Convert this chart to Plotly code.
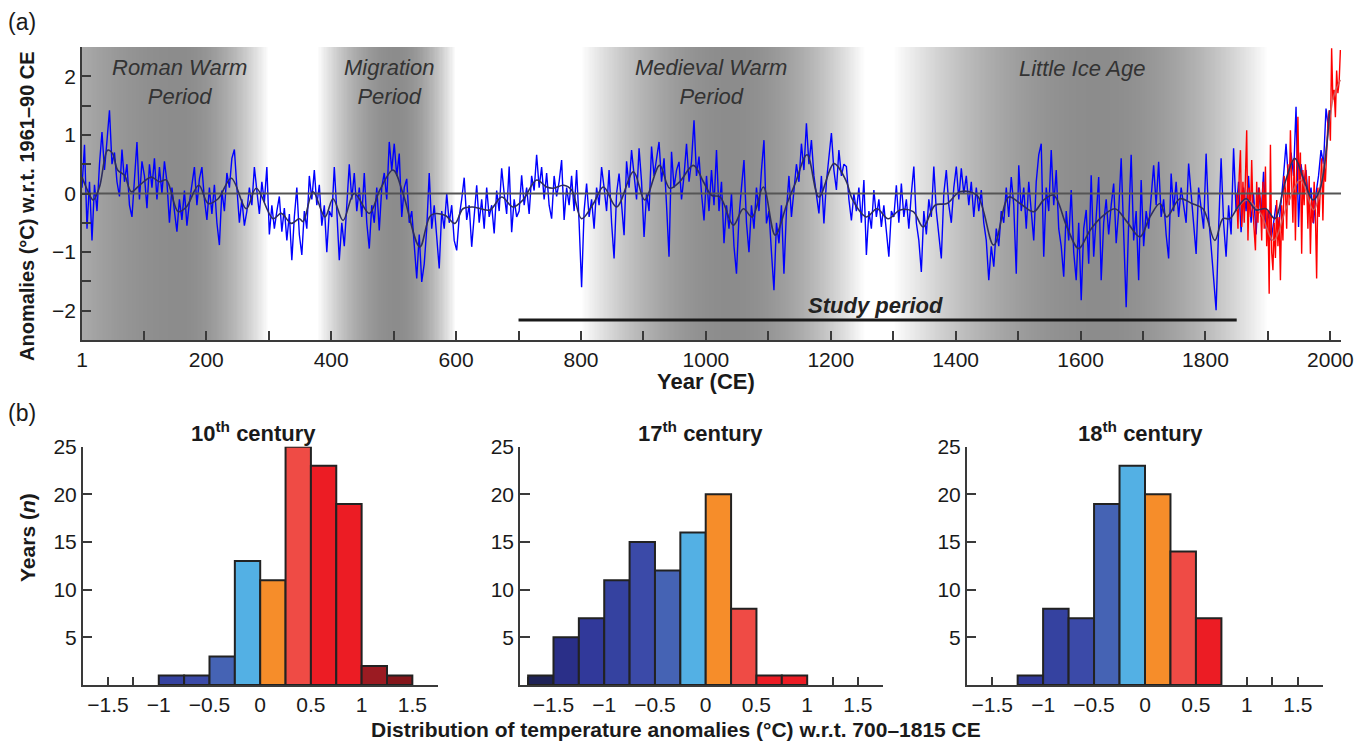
import math
import plotly.graph_objects as go

# ---------------- panel (a) data ----------------
blue_years = list(range(1, 2000, 4))
blue_anom = [
    # 1-97
    0.1, 0.83, -0.6, 0.2, -0.8, 0.15, -0.3, 0.5, 1.05, 0.4, 0.9, 1.42, 0.5, 0.7, 0.2, -0.05, 0.75, 0.2, 0.5, -0.2, -0.4, 0.3, 0.88, -0.1, 0.55,
    # 101-197
    0.3, -0.25, 0.5, 0.1, 0.6, -0.1, 0.45, 0.0, 0.55, 0.2, -0.5, 0.1, -0.3, -0.65, -0.1, -0.45, 0.05, -0.55, -0.15, 0.2, 0.45, -0.2, 0.25, 0.45, -0.1,
    # 201-297
    -0.45, 0.1, -0.35, 0.15, -0.5, -0.88, 0.05, -0.3, 0.35, 0.1, 0.6, 0.75, 0.1, -0.5, -0.1, -0.55, -0.3, 0.1, -0.2, 0.45, 0.05, -0.35, 0.2, -0.15, 0.45,
    # 301-397
    -0.7, -0.2, -0.6, -0.3, -0.05, -0.65, -0.25, -0.8, -0.35, -1.14, -0.4, 0.1, -0.7, -1.05, -0.3, -0.6, 0.3, -0.1, 0.4, -0.2, 0.15, -0.55, -0.2, -1.0, -0.3,
    # 401-497
    -0.4, 0.45, -0.3, -1.14, -0.5, -0.9, -0.2, 0.5, -0.1, 0.35, -0.3, 0.1, -0.4, 0.35, -0.5, -0.94, -0.2, -0.5, 0.1, -0.63, 0.1, 0.35, -0.1, 0.88, 0.4,
    # 501-597
    0.85, 0.3, 0.68, -0.4, 0.1, 0.25, -0.5, -0.3, -0.9, -1.45, -0.7, -1.51, -1.2, -0.6, 0.35, -0.6, -0.2, -0.7, -1.28, -0.3, -0.6, 0.0, -0.5, -0.2, -0.8,
    # 601-697
    -0.97, -0.4, -0.1, 0.27, -0.45, -0.2, -0.91, -0.3, 0.14, -0.5, -0.1, -0.6, 0.1, -0.4, -0.2, -0.68, 0.05, -0.3, 0.43, 0.0, -0.35, 0.46, -0.66, -0.1, -0.4,
    # 701-797
    -0.3, 0.31, -0.2, 0.1, -0.35, 0.3, 0.05, 0.66, 0.1, 0.45, -0.1, 0.35, -0.2, -0.43, 0.3, -0.05, 0.2, 0.57, -0.45, 0.1, -0.2, 0.3, -0.3, 0.4, -0.5,
    # 801-897
    -1.6, -0.3, 0.17, -0.4, -0.1, -0.6, 0.1, -0.2, 0.45, 0.1, -0.3, 0.4, -0.5, -1.11, 0.0, 0.34, -0.2, -0.71, 0.55, 0.1, 0.74, 0.3, -0.1, 0.77, 0.2,
    # 901-997
    -0.74, 0.0, -0.3, 0.8, 0.3, 0.6, 0.88, 0.2, 0.6, -0.2, -1.08, 0.71, 0.1, 0.4, 0.54, -0.1, 0.3, 0.85, 0.2, 0.55, 1.25, 0.3, 0.63, 0.0, -0.46,
    # 1001-1097
    0.3, -0.3, 0.4, -0.2, 0.74, -0.3, 0.2, -0.85, -0.2, -0.6, 0.0, -0.9, -1.37, -0.4, 0.1, 0.57, -0.5, -1.0, -0.2, -0.6, 0.1, -0.3, 0.4, 0.91, -0.51,
    # 1101-1197
    -0.3, -1.0, -1.65, -0.5, -0.85, -0.2, -1.37, -0.3, 0.3, -0.4, 0.1, 0.5, 0.2, 0.85, 0.4, 1.2, 0.5, 0.91, 0.3, 0.0, -0.34, 0.3, -0.51, 0.2, 0.6,
    # 1201-1297
    1.03, 0.4, 0.06, 0.74, 0.3, 0.5, 0.46, -0.1, -0.46, 0.0, -0.3, 0.1, -0.5, 0.23, -1.05, -0.3, -0.6, 0.06, -0.4, -0.1, -0.57, -0.2, -0.7, -1.08, -0.3,
    # 1301-1397
    -0.4, 0.14, -0.5, 0.17, -0.4, -0.1, -0.6, 0.0, 0.46, -0.5, -0.8, -1.34, -0.3, -0.7, -0.1, -0.4, 0.46, -0.3, -0.7, -1.11, 0.0, 0.4, -0.2, -0.5, 0.1,
    # 1401-1497
    0.46, -0.1, 0.43, 0.0, 0.3, -0.2, 0.2, -0.4, 0.1, -0.3, 0.06, -0.5, -0.8, -1.48, -0.9, -1.25, -0.6, -0.9, -0.3, -0.5, 0.1, -0.4, 0.28, -0.2, -1.37,
    # 1501-1597
    0.48, -0.3, 0.1, -0.6, 0.2, -0.34, -0.8, 0.2, 0.66, 0.85, -1.08, 0.1, -0.3, 0.74, -0.2, 0.4, -0.6, -0.9, -1.42, -0.3, -0.8, 0.06, -1.0, -1.48, -0.5,
    # 1601-1697
    -1.82, -0.6, -0.28, -1.2, 0.31, -1.08, -0.4, 0.28, -1.48, -0.5, -0.1, -0.7, -0.2, 0.17, -0.85, -0.3, 0.6, -0.6, -1.94, -0.5, 0.66, -0.8, -0.3, -1.48, 0.23,
    # 1701-1797
    -0.9, -0.3, -0.6, 0.0, 0.48, -0.2, 0.54, -0.4, -0.1, -0.7, -1.11, 0.34, -0.3, 0.2, -0.4, 0.1, -0.2, -0.5, 0.51, 0.0, -0.4, -1.03, 0.1, -0.3, -0.6,
    # 1801-1897
    0.68, -0.4, -0.9, -1.48, -1.99, -0.6, 0.6, -0.5, -1.08, -0.2, -0.7, 0.77, -0.3, 0.2, -0.66, 0.1, -0.3, 0.3, -0.5, 0.0, -0.7, 0.1, -0.4, 0.37, -0.6,
    # 1901-1997
    -0.3, -0.8, -0.5, -0.2, -0.6, -0.17, 0.3, 0.85, 0.2, 0.7, 0.3, 1.48, -0.57, 0.5, 0.17, 0.4, -0.2, 0.1, -0.51, 0.0, 0.3, 0.74, 0.5, 1.45, 1.1,
]

blue_smooth_years = [
    1, 10, 19, 29, 42, 50, 58, 69, 80, 93, 112, 125, 136, 155, 168, 188, 203, 219, 240, 264,
    280, 307, 320, 336, 349, 355, 371, 390, 403, 419, 437, 461, 478, 499, 515, 542, 560, 582, 598, 611,
    627, 654, 673, 691, 707, 729, 745, 756, 772, 785, 801, 820, 836, 857, 884, 902, 926, 942, 958, 980,
    996, 1009, 1023, 1044, 1060, 1074, 1092, 1111, 1130, 1143, 1162, 1181, 1205, 1224, 1235, 1257, 1274, 1292, 1311, 1332,
    1348, 1367, 1386, 1407, 1434, 1461, 1485, 1503, 1525, 1541, 1557, 1578, 1597, 1615, 1634, 1655, 1674, 1695, 1711, 1727,
    1738, 1759, 1778, 1796, 1815, 1828, 1839, 1852, 1865, 1881, 1897, 1911, 1927, 1943, 1956, 1972, 1983, 1999,
]
blue_smooth = [
    0.28, 0.05, -0.11, 0.11, 0.74, 0.68, 0.40, 0.31, 0.03, 0.14, 0.28, 0.20, 0.23, -0.31, -0.23, 0.14, -0.17, -0.09, 0.26, -0.26,
    0.09, -0.43, -0.34, -0.51, -0.43, -0.48, 0.03, -0.40, -0.09, -0.46, 0.0, -0.34, 0.06, 0.40, 0.0, -0.91, -0.37, -0.37, -0.51, -0.26,
    -0.23, -0.28, -0.06, -0.23, -0.11, 0.23, 0.11, 0.09, 0.14, 0.06, -0.43, -0.17, 0.11, -0.23, 0.37, -0.11, 0.48, 0.09, 0.20, 0.48,
    0.20, -0.03, -0.06, -0.54, -0.26, -0.40, 0.11, -0.71, -0.17, 0.17, 0.66, -0.06, 0.51, 0.23, -0.11, -0.40, -0.26, -0.43, -0.28, -0.31,
    -0.57, -0.20, -0.17, 0.03, -0.03, -0.88, -0.06, -0.17, -0.31, -0.11, -0.03, -0.57, -0.94, -0.63, -0.40, -0.26, -0.48, -0.74, -0.40, -0.17,
    -0.40, -0.09, -0.17, -0.26, -0.80, -0.43, -0.43, -0.23, -0.09, -0.28, -0.26, -0.43, 0.17, 0.60, 0.28, -0.11, 0.06, 1.42,
]

red_years = list(range(1850, 2017, 2))
red_anom = [
    0.0, -0.6, 0.3, 0.74, -0.57, 0.2, -0.5, 0.4, 1.08, -0.8, 0.1, -0.4, 0.57, -0.3, -0.6, -0.97, 0.2, -0.5, 0.1, -0.11,
    -0.8, 0.2, -0.6, 0.46, -0.9, -0.3,
    -1.71, 0.83, -1.0, -1.31, -0.5, -1.1, -0.11, -0.9, -0.4, -1.48, -0.2, -0.8, 0.3, 0.06, -0.6, 0.5, -0.2, 1.08, 0.2, -0.5,
    0.6, -0.8, 0.4, 1.31, 0.0,
    0.7, -1.03, 0.4, -0.2, 0.5, 0.17, -0.6, 0.3, -1.03, -0.1, -0.5, 0.2, -0.34, -1.45, 0.1, -0.4, 0.28, 0.6, -0.46, 0.5,
    0.2, 0.91, 1.2, 1.42, 0.9,
    2.48, 1.6, 1.77, 1.3, 2.1, 1.71, 1.9, 2.45,
]
red_smooth_years = [1850, 1866, 1888, 1909, 1930, 1952, 1973, 1989, 2005, 2016]
red_smooth = [-0.28, -0.11, -0.34, -0.80, -0.23, 0.23, -0.28, 0.46, 1.65, 1.94]

x_tick_vals = [1] + list(range(100, 2001, 100))
x_tick_text = ["1" if v == 1 else (str(v) if v % 200 == 0 else "") for v in x_tick_vals]
y_tick_vals = [-2, -1.5, -1, -0.5, 0, 0.5, 1, 1.5, 2, 2.5]
y_tick_text = ["\u22122", " ", "\u22121", " ", "0", " ", "1", " ", "2", " "]

# climate periods: (label, start, peak, end, label_year, label_value)
periods = [
    ("Roman Warm<br>Period", -150, 160, 300, 157, 1.91),
    ("Migration<br>Period", 378, 505, 600, 493, 1.91),
    ("Medieval Warm<br>Period", 800, 1040, 1255, 1008, 1.91),
    ("Little Ice Age", 1300, 1630, 1900, 1602, 2.14),
]
study_start, study_end, study_level = 700, 1850, -2.16

# ---------------- panel (b) data ----------------
bin_left = [-1.75, -1.5, -1.25, -1.0, -0.75, -0.5, -0.25, 0.0, 0.25, 0.5, 0.75, 1.0, 1.25]
bin_colors = ["#1f2357", "#2a2f88", "#31399a", "#3542a0", "#3b4aa8", "#4563b4", "#53b0e4",
              "#f68d2a", "#ef4b45", "#ec1c24", "#ec1c24", "#9b1b22", "#85161b"]
counts_10th = [0, 0, 0, 1, 1, 3, 13, 11, 25, 23, 19, 2, 1]
counts_17th = [1, 5, 7, 11, 15, 12, 16, 20, 8, 1, 1, 0, 0]
counts_18th = [0, 0, 1, 8, 7, 19, 23, 20, 14, 7, 0, 0, 0]
hist_titles = ["10<sup>th</sup> century", "17<sup>th</sup> century", "18<sup>th</sup> century"]
hist_x_vals = [-1.75 + 0.25 * i for i in range(15)]
label_map = {-1.5: "\u22121.5", -1.0: "\u22121", -0.5: "\u22120.5", 0.0: "0", 0.5: "0.5", 1.0: "1", 1.5: "1.5"}
hist_x_text = [label_map.get(round(v, 2), " ") for v in hist_x_vals]

FONT = "Liberation Sans, Arial, Helvetica, sans-serif"
W, H = 1368, 741
TXT = "#1a1a1a"
AX = "#3a3a3a"

fig = go.Figure()

# gradient background for periods (style only)
edges = list(range(1, 2019, 2))
centers = [(edges[i] + edges[i + 1]) / 2 for i in range(len(edges) - 1)]
shade = []
for c in centers:
    v = 0.0
    for _, s, p, e, _, _ in periods:
        t = 0.0
        if s < c <= p:
            t = (c - s) / (p - s)
        elif p < c < e:
            t = (e - c) / (e - p)
        v = max(v, 1 - (1 - t) ** 2)
    shade.append(v)
fig.add_trace(go.Heatmap(x=edges, y=[-2.5, 2.5], z=[shade], zmin=0, zmax=1,
                         colorscale=[[0, "#ffffff"], [1, "#8c8c8c"]], showscale=False,
                         hoverinfo="skip", xaxis="x", yaxis="y"))

fig.add_trace(go.Scatter(x=blue_years, y=blue_anom, mode="lines",
                         line=dict(color="#0000ff", width=1.4), xaxis="x", yaxis="y", hoverinfo="skip"))
fig.add_trace(go.Scatter(x=red_years, y=red_anom, mode="lines",
                         line=dict(color="#ff0000", width=1.4), xaxis="x", yaxis="y", hoverinfo="skip"))
fig.add_trace(go.Scatter(x=[1, 2017], y=[0, 0], mode="lines",
                         line=dict(color="#555555", width=2), xaxis="x", yaxis="y", hoverinfo="skip"))
fig.add_trace(go.Scatter(x=red_smooth_years, y=red_smooth, mode="lines", line_shape="spline",
                         line=dict(color="rgba(205,95,95,0.9)", width=1.5), xaxis="x", yaxis="y", hoverinfo="skip"))
fig.add_trace(go.Scatter(x=blue_smooth_years, y=blue_smooth, mode="lines", line_shape="spline",
                         line=dict(color="#2e2e5e", width=1.6), xaxis="x", yaxis="y", hoverinfo="skip"))
fig.add_trace(go.Scatter(x=[study_start, study_end], y=[study_level, study_level], mode="lines",
                         line=dict(color="#1a1a1a", width=3), xaxis="x", yaxis="y", hoverinfo="skip"))

# histograms
hist_sets = [counts_10th, counts_17th, counts_18th]
for k, counts in enumerate(hist_sets):
    xs = [bin_left[i] + 0.125 for i in range(len(counts)) if counts[i] > 0]
    ys = [counts[i] for i in range(len(counts)) if counts[i] > 0]
    cs = [bin_colors[i] for i in range(len(counts)) if counts[i] > 0]
    fig.add_trace(go.Bar(x=xs, y=ys, width=0.25, marker=dict(color=cs, line=dict(color="#222222", width=2)),
                         xaxis="x%d" % (k + 2), yaxis="y%d" % (k + 2), hoverinfo="skip"))

top_dom_y = [1 - 340 / H, 1 - 47 / H]
bot_dom_y = [1 - 685 / H, 1 - 446.7 / H]
hist_dom_x = [[82.7 / W, 437.7 / W], [520 / W, 883.3 / W], [966.7 / W, 1323.3 / W]]
hist_ranges = [[-1.75, 1.75], [-1.83, 1.75], [-1.75, 1.75]]

axis_common = dict(showline=True, linecolor=AX, linewidth=1.5, ticks="inside", tickcolor=AX,
                   tickwidth=1.5, showgrid=False, zeroline=False, automargin=False, tickangle=0,
                   tickfont=dict(family=FONT, size=21, color=TXT))

layout = dict(
    width=W, height=H, autosize=False,
    margin=dict(l=0, r=0, t=0, b=0, pad=0, autoexpand=False),
    paper_bgcolor="white", plot_bgcolor="white",
    showlegend=False, barmode="overlay",
    font=dict(family=FONT, color=TXT),
    xaxis=dict(domain=[82 / W, 1341 / W], range=[1, 2017], tickmode="array", tickvals=x_tick_vals,
               ticktext=x_tick_text, ticklen=9, anchor="y", **axis_common),
    yaxis=dict(domain=top_dom_y, range=[-2.5, 2.5], tickmode="array", tickvals=y_tick_vals,
               ticktext=y_tick_text, ticklen=9, anchor="x", **axis_common),
)
for k in range(3):
    layout["xaxis%d" % (k + 2)] = dict(domain=hist_dom_x[k], range=hist_ranges[k], tickmode="array",
                                       tickvals=hist_x_vals, ticktext=hist_x_text, ticklen=8,
                                       anchor="y%d" % (k + 2), layer="below traces", **axis_common)
    layout["yaxis%d" % (k + 2)] = dict(domain=bot_dom_y, range=[0, 25], tickmode="array",
                                       tickvals=[5, 10, 15, 20, 25], ticktext=["5", "10", "15", "20", "25"],
                                       ticklen=10, anchor="x%d" % (k + 2), layer="below traces", **axis_common)
fig.update_layout(**layout)


def pa(x_px, y_px, text, size, angle=0, color=TXT):
    return dict(x=x_px / W, y=1 - y_px / H, xref="paper", yref="paper", text=text, showarrow=False,
                xanchor="center", yanchor="middle", textangle=angle,
                font=dict(family=FONT, size=size, color=color))


ann = []
for label, s, p, e, ly, lv in periods:
    ann.append(dict(x=ly, y=lv, xref="x", yref="y", text="<i>%s</i>" % label, showarrow=False,
                    xanchor="center", yanchor="middle",
                    font=dict(family=FONT, size=22, color="#333333"), align="center"))
ann.append(dict(x=1271, y=-1.91, xref="x", yref="y", text="<b><i>Study period</i></b>", showarrow=False,
                xanchor="center", yanchor="middle", font=dict(family=FONT, size=22, color="#222222")))
ann.append(pa(22, 22, "(a)", 23))
ann.append(pa(22, 413, "(b)", 23))
ann.append(pa(27, 206, "<b>Anomalies (°C) w.r.t. 1961\u201390 CE</b>", 20, angle=-90))
ann.append(pa(706, 381, "<b>Year (CE)</b>", 22))
hist_title_x = [253, 700, 1140]
for k in range(3):
    ann.append(pa(hist_title_x[k], 432, "<b>%s</b>" % hist_titles[k], 22))
ann.append(pa(27, 538, "<b>Years (<i>n</i>)</b>", 21, angle=-90))
ann.append(pa(676, 729, "<b>Distribution of temperature anomalies (°C) w.r.t. 700\u20131815 CE</b>", 21))
fig.update_layout(annotations=ann)

fig.write_html("out.html", config={"displayModeBar": False},
               post_script="document.body.style.margin='0';document.body.style.overflow='hidden';")
